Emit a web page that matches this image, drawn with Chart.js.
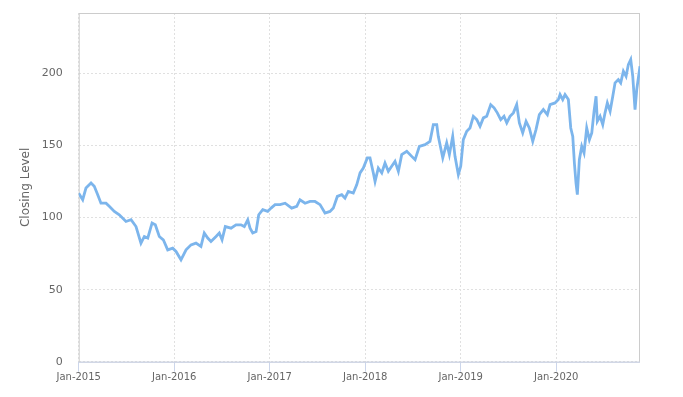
<!DOCTYPE html>
<html>
<head>
<meta charset="utf-8">
<script src="https://cdn.jsdelivr.net/npm/chart.js@4/dist/chart.umd.min.js"></script>
<style>
  html, body { margin: 0; padding: 0; background: #fff; }
  #wrap { width: 683px; height: 397px; }
</style>
</head>
<body>
<div id="wrap"><canvas id="chart"></canvas></div>
<script>
// years elapsed since Jan-2015 for each sampled close
const yearsSince2015 = [
  0.000, 0.042, 0.076, 0.129, 0.163, 0.199, 0.233, 0.286, 0.320, 0.373,
  0.425, 0.495, 0.548, 0.600, 0.652, 0.687, 0.723, 0.768, 0.802, 0.844,
  0.886, 0.932, 0.984, 1.019, 1.071, 1.124, 1.176, 1.228, 1.280, 1.315,
  1.351, 1.385, 1.438, 1.472, 1.501, 1.535, 1.595, 1.647, 1.699, 1.734,
  1.770, 1.794, 1.822, 1.857, 1.885, 1.927, 1.979, 2.014, 2.056, 2.108,
  2.161, 2.230, 2.283, 2.317, 2.370, 2.422, 2.474, 2.527, 2.579, 2.631,
  2.666, 2.708, 2.754, 2.788, 2.823, 2.875, 2.911, 2.946, 2.980, 3.022,
  3.050, 3.085, 3.103, 3.137, 3.173, 3.207, 3.242, 3.277, 3.312, 3.347,
  3.382, 3.435, 3.487, 3.522, 3.567, 3.626, 3.678, 3.713, 3.749, 3.765,
  3.812, 3.853, 3.881, 3.916, 3.940, 3.975, 4.000, 4.027, 4.063, 4.097,
  4.132, 4.168, 4.202, 4.237, 4.272, 4.314, 4.349, 4.383, 4.419, 4.453,
  4.482, 4.516, 4.551, 4.586, 4.614, 4.649, 4.684, 4.718, 4.754, 4.788,
  4.823, 4.865, 4.907, 4.935, 4.987, 5.022, 5.040, 5.068, 5.092, 5.127,
  5.152, 5.173, 5.190, 5.207, 5.221, 5.242, 5.267, 5.291, 5.319, 5.347,
  5.372, 5.396, 5.417, 5.430, 5.459, 5.487, 5.511, 5.535, 5.564, 5.592,
  5.616, 5.650, 5.675, 5.703, 5.731, 5.755, 5.780, 5.801, 5.825, 5.843,
  5.877
];

const closingLevel = [
  117.0, 112.4, 120.5, 124.0, 121.7, 115.9, 110.0, 110.0, 107.8, 104.3,
  102.0, 97.3, 98.5, 93.8, 82.3, 86.9, 85.8, 96.2, 95.0, 86.9,
  84.6, 77.6, 78.8, 76.5, 70.7, 77.6, 81.1, 82.3, 80.0, 89.3,
  85.8, 83.4, 86.9, 89.3, 84.6, 93.8, 92.7, 95.0, 95.0, 93.8,
  98.5, 92.7, 89.3, 90.4, 102.0, 105.5, 104.3, 106.6, 109.0, 109.0,
  110.0, 106.6, 107.8, 112.4, 110.0, 111.2, 111.2, 109.0, 103.2, 104.3,
  106.6, 114.7, 115.9, 113.6, 118.2, 117.0, 122.8, 131.0, 134.4, 141.4,
  141.4, 131.0, 125.1, 134.4, 131.0, 137.9, 132.1, 135.6, 139.0, 132.1,
  143.7, 146.0, 142.5, 140.2, 149.5, 150.6, 152.9, 164.5, 164.5, 156.4,
  141.4, 151.8, 143.7, 156.4, 142.5, 129.8, 135.6, 154.1, 159.9, 162.2,
  170.3, 168.0, 163.4, 169.2, 170.3, 178.4, 176.2, 172.7, 168.0, 170.3,
  165.7, 170.3, 172.7, 178.4, 165.7, 158.8, 166.8, 162.2, 152.9, 161.1,
  171.5, 175.0, 171.5, 178.4, 179.6, 181.9, 185.4, 181.9, 185.4, 181.9,
  162.2, 156.4, 137.9, 124.0, 115.9, 140.2, 149.5, 144.9, 162.2, 154.1,
  158.8, 173.8, 184.2, 166.8, 170.3, 164.5, 172.7, 179.6, 173.8, 184.2,
  193.5, 195.8, 193.5, 201.6, 198.1, 206.2, 209.7, 198.1, 175.0, 188.9,
  205.1
];

const xTickLabels = ['Jan-2015', 'Jan-2016', 'Jan-2017', 'Jan-2018', 'Jan-2019', 'Jan-2020'];
const yTickValues = [0, 50, 100, 150, 200];

// Marco del área de trazado (borde gris + línea del eje x azulada)
const plotBorder = {
  id: 'plotBorder',
  beforeDatasetsDraw(chart) {
    const { ctx, chartArea: a } = chart;
    ctx.save();
    ctx.strokeStyle = '#cccccc';
    ctx.lineWidth = 1;
    ctx.strokeRect(a.left + 0.5, a.top + 0.5, a.right - a.left - 1, a.bottom - a.top);
    ctx.strokeStyle = '#ccd6eb';
    ctx.beginPath();
    ctx.moveTo(a.left, a.bottom + 0.5);
    ctx.lineTo(a.right, a.bottom + 0.5);
    ctx.stroke();
    ctx.restore();
  }
};

const points = yearsSince2015.map((x, i) => ({ x: x, y: closingLevel[i] }));

new Chart(document.getElementById('chart'), {
  type: 'line',
  data: {
    datasets: [{
      label: 'Closing Level',
      data: points,
      borderColor: '#7cb5ec',
      borderWidth: 2.8,
      pointRadius: 0,
      tension: 0,
      fill: false
    }]
  },
  options: {
    responsive: true,
    maintainAspectRatio: false,
    animation: false,
    layout: { padding: { top: 13, right: 43, left: 0, bottom: 0 } },
    plugins: { legend: { display: false }, tooltip: { enabled: false } },
    scales: {
      x: {
        type: 'linear',
        min: 0,
        max: 5.877,
        afterBuildTicks(scale) {
          scale.ticks = xTickLabels.map((_, i) => ({ value: i }));
        },
        afterFit(scale) {
          scale.height = 35.3;
          scale.paddingLeft = 0;
          scale.paddingRight = 0;
        },
        ticks: {
          callback: (v) => xTickLabels[v] || '',
          color: '#666666',
          font: { family: 'DejaVu Sans', size: 10 },
          padding: 0,
          maxRotation: 0,
          autoSkip: false
        },
        grid: {
          color: '#e0e0e0',
          tickColor: '#ccd6eb',
          tickLength: 10,
          lineWidth: 1
        },
        border: { display: false, dash: [2, 2] }
      },
      y: {
        min: 0,
        max: 242,
        afterBuildTicks(scale) {
          scale.ticks = yTickValues.map(v => ({ value: v }));
        },
        afterFit(scale) {
          scale.width = 78.7;
          scale.paddingTop = 0;
          scale.paddingBottom = 0;
        },
        ticks: {
          color: '#666666',
          font: { family: 'DejaVu Sans', size: 11 },
          padding: 16
        },
        grid: { color: '#e0e0e0', drawTicks: false },
        border: { display: false, dash: [2, 2] },
        title: {
          display: true,
          text: 'Closing Level',
          color: '#666666',
          font: { family: 'DejaVu Sans', size: 12 },
          padding: { top: 19, bottom: 0 }
        }
      }
    }
  },
  plugins: [plotBorder]
});
</script>
</body>
</html>
